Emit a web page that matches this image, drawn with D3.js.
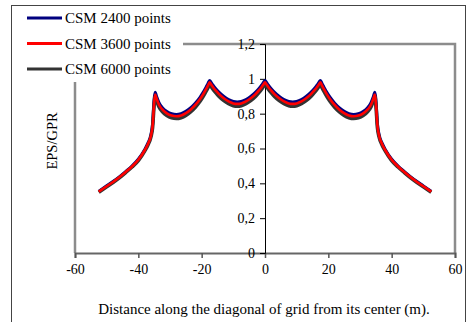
<!DOCTYPE html>
<html>
<head>
<meta charset="utf-8">
<script src="https://cdn.jsdelivr.net/npm/d3@7"></script>
<style>
	body { margin: 0; background: white; }
	#chart { width: 467px; height: 322px; }
	svg text { font-family: "Liberation Serif", "Times New Roman", Times, serif; fill: #000; }
</style>
</head>
<body>
<div id="chart"></div>
<script>

var seriesNames = ["CSM 2400 points", "CSM 3600 points", "CSM 6000 points"];
var seriesColors = ["#00007f", "#ff0000", "#333333"];

var xTicks = [-60, -40, -20, 0, 20, 40, 60];
var yTicks = [0, 0.2, 0.4, 0.6, 0.8, 1, 1.2];
var yTickLabels = ["0", "0,2", "0,4", "0,6", "0,8", "1", "1,2"];

var xs = [-52.5, -50, -48, -46, -44, -42, -40, -38, -37, -36, -35.5, -35, -34.7, -34.2, -33.5, -32.5, -31, -29.5, -28, -26.5, -25, -23.5, -22, -20.5, -19.5, -18.5, -18, -17.5, -17, -16.5, -15.5, -14.5, -13, -11.5, -10, -8.75, -7.5, -6, -4.5, -3, -2, -1, -0.5,
	0,
	0.5, 1, 2, 3, 4.5, 6, 7.5, 8.75, 10, 11.5, 13, 14.5, 15.5, 16.5, 17, 17.5, 18, 18.5, 19.5, 20.5, 22, 23.5, 25, 26.5, 28, 29.5, 31, 32.5, 33.5, 34.2, 34.7, 35, 35.5, 36, 37, 38, 40, 42, 44, 46, 48, 50, 52.5];

var csm2400 = [.354, .385, .410, .437, .467, .499, .538, .593, .629, .680, .738, .880, .922, .895, .863, .836, .812, .799, .795, .800, .813, .833, .860, .894, .922, .955, .972, .990, .978, .965, .942, .922, .898, .880, .869, .866, .869, .880, .898, .922, .942, .965, .978,
	.990,
	.978, .965, .942, .922, .898, .880, .869, .866, .869, .880, .898, .922, .942, .965, .978, .990, .972, .955, .922, .894, .860, .833, .813, .800, .795, .799, .812, .836, .863, .895, .922, .880, .738, .680, .629, .593, .538, .499, .467, .437, .410, .385, .354];

var csm3600 = [.352, .383, .408, .435, .465, .497, .535, .590, .625, .675, .730, .865, .910, .885, .853, .826, .802, .789, .785, .790, .803, .823, .850, .884, .912, .945, .962, .980, .968, .955, .932, .912, .888, .870, .859, .856, .859, .870, .888, .912, .932, .955, .968,
	.980,
	.968, .955, .932, .912, .888, .870, .859, .856, .859, .870, .888, .912, .932, .955, .968, .980, .962, .945, .912, .884, .850, .823, .803, .790, .785, .789, .802, .826, .853, .885, .910, .865, .730, .675, .625, .590, .535, .497, .465, .435, .408, .383, .352];

var csm6000 = [.349, .380, .405, .432, .462, .494, .531, .585, .619, .668, .720, .852, .897, .872, .840, .813, .789, .776, .772, .777, .790, .810, .837, .871, .899, .932, .949, .967, .955, .942, .919, .899, .875, .857, .846, .843, .846, .857, .875, .899, .919, .942, .955,
	.967,
	.955, .942, .919, .899, .875, .857, .846, .843, .846, .857, .875, .899, .919, .942, .955, .967, .949, .932, .899, .871, .837, .810, .790, .777, .772, .776, .789, .813, .840, .872, .897, .852, .720, .668, .619, .585, .531, .494, .462, .432, .405, .380, .349];

function drawChart(){

	var width = 467;
	var height = 322;

	var svg = d3.select("#chart").append("svg")
		.attr("width", width)
		.attr("height", height);

	// outer frame
	svg.append("rect").attr("x", 11.5).attr("y", 5.5).attr("width", 454).attr("height", 330)
		.attr("fill", "white").attr("stroke", "#444").attr("stroke-width", 1);

	var x = d3.scaleLinear().domain([-60, 60]).range([75, 455]);
	var y = d3.scaleLinear().domain([0, 1.2]).range([253, 44]);

	// plot area border
	svg.append("path")
		.attr("d", "M" + x(-60) + "," + y(0) + "V" + y(1.2) + "H" + x(60) + "V" + y(0))
		.attr("fill", "none").attr("stroke", "#8c8c8c").attr("stroke-width", 2.5);

	// x axis
	var xAxis = svg.append("g").attr("transform", "translate(0," + y(0) + ")")
		.call(d3.axisBottom(x).tickValues(xTicks).tickSize(5).tickPadding(6).tickFormat(function (d) { return String(d); }));
	xAxis.attr("font-family", null);
	xAxis.select(".domain").attr("stroke", "#666").attr("stroke-width", 2);
	xAxis.selectAll(".tick line").attr("stroke", "#555").attr("stroke-width", 1.5);
	xAxis.selectAll(".tick text").attr("font-size", 14);

	// y axis at x = 0
	var yAxis = svg.append("g").attr("transform", "translate(" + x(0) + ",0)")
		.call(d3.axisLeft(y).tickValues(yTicks).tickSize(5).tickPadding(5)
			.tickFormat(function (d, i) { return yTickLabels[i]; }));
	yAxis.attr("font-family", null);
	yAxis.select(".domain").attr("stroke", "#000").attr("stroke-width", 1);
	yAxis.selectAll(".tick line").attr("stroke", "#000");
	yAxis.selectAll(".tick text").attr("font-size", 14);

	var line = d3.line()
		.x(function (d) { return x(d[0]); })
		.y(function (d) { return y(d[1]); })
		.curve(d3.curveMonotoneX);

	var all = [csm2400, csm3600, csm6000];
	var drawOrder = [0, 2, 1];
	var widths = [3.2, 2.6, 3.6];
	drawOrder.forEach(function (k) {
		svg.append("path")
			.datum(xs.map(function (v, i) { return [v, all[k][i]]; }))
			.attr("d", line)
			.attr("fill", "none")
			.attr("stroke", seriesColors[k])
			.attr("stroke-width", widths[k])
			.attr("stroke-linejoin", "round");
	});

	// legend
	svg.append("rect").attr("x", 20).attr("y", 8).attr("width", 163).attr("height", 74).attr("fill", "white");
	seriesNames.forEach(function (name, i) {
		var ly = 18 + i * 25.5;
		svg.append("line").attr("x1", 27).attr("x2", 62).attr("y1", ly).attr("y2", ly)
			.attr("stroke", seriesColors[i]).attr("stroke-width", 3);
		svg.append("text").attr("x", 65).attr("y", ly + 5).attr("font-size", 15).text(name);
	});

	// axis titles
	svg.append("text").attr("x", 264).attr("y", 314).attr("text-anchor", "middle")
		.attr("font-size", 15).text("Distance along the diagonal of grid from its center (m).");
	svg.append("text").attr("transform", "translate(57,141) rotate(-90)").attr("text-anchor", "middle")
		.attr("font-size", 14.5).text("EPS/GPR");
}

drawChart();
</script>
</body>
</html>
